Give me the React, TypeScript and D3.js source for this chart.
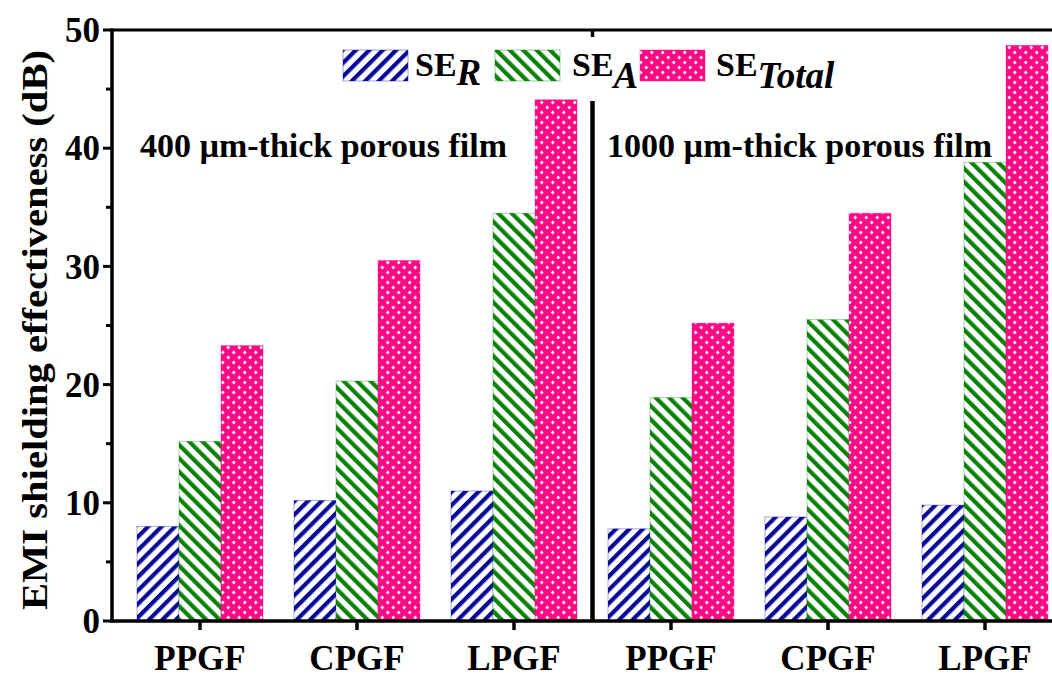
import React from "react";
import * as d3 from "d3";

const categories = ["PPGF", "CPGF", "LPGF", "PPGF", "CPGF", "LPGF"];
const seriesKeys = ["R", "A", "Total"];
const seR = [8.0, 10.2, 11.0, 7.8, 8.8, 9.8];
const seA = [15.2, 20.3, 34.5, 18.9, 25.5, 38.8];
const seTotal = [23.3, 30.5, 44.1, 25.2, 34.5, 48.7];
const yTicks = [0, 10, 20, 30, 40, 50];
const yMinorTicks = [5, 15, 25, 35, 45];
const groupLabels = ["400 µm-thick porous film", "1000 µm-thick porous film"];

const W = 1052;
const H = 684;
const X0 = 112;
const Y0 = 621;
const Y1 = 30;

const colors: Record<string, string> = { R: "#0a0a9a", A: "#0a820a", Total: "#ff0a84" };
const fills: Record<string, string> = { R: "url(#patR)", A: "url(#patA)", Total: "url(#patT)" };
const values: Record<string, number[]> = { R: seR, A: seA, Total: seTotal };

export default function App() {
  const idx = categories.map((_, i) => String(i));
  const x = d3.scaleBand<string>().domain(idx).range([121.5, 121.5 + 157 * 6]).padding(0);
  const inner = d3.scaleBand<string>().domain(seriesKeys).range([-63, 63]).padding(0);
  const y = d3.scaleLinear().domain([0, 50]).range([Y0, Y1]);
  const cx = (i: number) => (x(String(i)) as number) + x.bandwidth() / 2;
  const dividerX = (cx(2) + cx(3)) / 2;
  const font = "'Liberation Serif', 'Times New Roman', serif";

  return (
    <svg width={W} height={H} style={{ position: "absolute", left: 0, top: 0, background: "#fff" }} fontFamily={font}>
      <defs>
        <pattern id="patR" patternUnits="userSpaceOnUse" width={9.5} height={9.5} patternTransform="rotate(45)">
          <rect width={9.5} height={9.5} fill="#fff" />
          <rect x={0} y={0} width={4.2} height={9.5} fill={colors.R} />
        </pattern>
        <pattern id="patA" patternUnits="userSpaceOnUse" width={9.5} height={9.5} patternTransform="rotate(-45)">
          <rect width={9.5} height={9.5} fill="#fff" />
          <rect x={0} y={0} width={4.2} height={9.5} fill={colors.A} />
        </pattern>
        <pattern id="patT" patternUnits="userSpaceOnUse" width={11} height={10}>
          <rect width={11} height={10} fill={colors.Total} />
          <path d="M2.75 0.6 L4.6 2.5 L2.75 4.4 L0.9 2.5 Z" fill="#fff" />
          <path d="M8.25 5.6 L10.1 7.5 L8.25 9.4 L6.4 7.5 Z" fill="#fff" />
        </pattern>
      </defs>

      {/* bars */}
      {categories.map((_, i) =>
        seriesKeys.map((k) => {
          const v = values[k][i];
          const bx = cx(i) + (inner(k) as number);
          return (
            <rect
              key={`${i}-${k}`}
              x={bx}
              y={y(v)}
              width={inner.bandwidth()}
              height={Y0 - y(v)}
              fill={fills[k]}
              stroke={colors[k]}
              strokeOpacity={0.35}
              strokeWidth={1}
            />
          );
        })
      )}

      {/* divider */}
      <line x1={dividerX} x2={dividerX} y1={101} y2={Y0} stroke="#000" strokeWidth={4.5} />

      {/* axes frame */}
      <line x1={X0} x2={X0} y1={Y1 - 1.5} y2={Y0 + 1.5} stroke="#000" strokeWidth={3.5} />
      <line x1={X0 - 1.5} x2={W} y1={Y0} y2={Y0} stroke="#000" strokeWidth={3.5} />
      <line x1={X0 - 1.5} x2={W} y1={Y1} y2={Y1} stroke="#000" strokeWidth={3} />
      <line x1={dividerX} x2={dividerX} y1={Y1} y2={Y1 + 7} stroke="#000" strokeWidth={3.5} />

      {/* y ticks */}
      {yTicks.map((t) => (
        <g key={`yt${t}`}>
          <line x1={X0 - 9} x2={X0} y1={y(t)} y2={y(t)} stroke="#000" strokeWidth={3} />
          <text x={100} y={y(t)} dy="0.35em" textAnchor="end" fontSize={35} fontWeight="bold">
            {t}
          </text>
        </g>
      ))}
      {yMinorTicks.map((t) => (
        <line key={`ym${t}`} x1={X0 - 6} x2={X0} y1={y(t)} y2={y(t)} stroke="#000" strokeWidth={3} />
      ))}

      {/* x ticks and labels */}
      {categories.map((c, i) => (
        <g key={`xt${i}`}>
          <line x1={cx(i)} x2={cx(i)} y1={Y0} y2={Y0 + 9} stroke="#000" strokeWidth={3.5} />
          <text x={cx(i)} y={670} textAnchor="middle" fontSize={35} fontWeight="bold">
            {c}
          </text>
        </g>
      ))}

      {/* y axis title */}
      <text
        transform={`translate(47, 330) rotate(-90)`}
        textAnchor="middle"
        fontSize={35}
        fontWeight="bold"
        textLength={560}
        lengthAdjust="spacingAndGlyphs"
      >
        EMI shielding effectiveness (dB)
      </text>

      {/* group annotations */}
      <text x={140} y={157} fontSize={33} fontWeight="bold" textLength={367} lengthAdjust="spacingAndGlyphs">
        {groupLabels[0]}
      </text>
      <text x={607} y={157} fontSize={33} fontWeight="bold" textLength={385} lengthAdjust="spacingAndGlyphs">
        {groupLabels[1]}
      </text>

      {/* legend */}
      {[
        { k: "R", sx: 343, tx: 415, sub: "R", dy: 9 },
        { k: "A", sx: 495, tx: 572, sub: "A", dy: 12 },
        { k: "Total", sx: 640, tx: 716, sub: "Total", dy: 12 },
      ].map((l) => (
        <g key={`lg${l.k}`}>
          <rect x={l.sx} y={50} width={65} height={31} fill={fills[l.k]} stroke={colors[l.k]} strokeOpacity={0.4} strokeWidth={1} />
          <text x={l.tx} y={76} fontSize={34} fontWeight="bold">
            SE
            <tspan fontStyle="italic" fontSize={37} dy={l.dy}>
              {l.sub}
            </tspan>
          </text>
        </g>
      ))}
    </svg>
  );
}
